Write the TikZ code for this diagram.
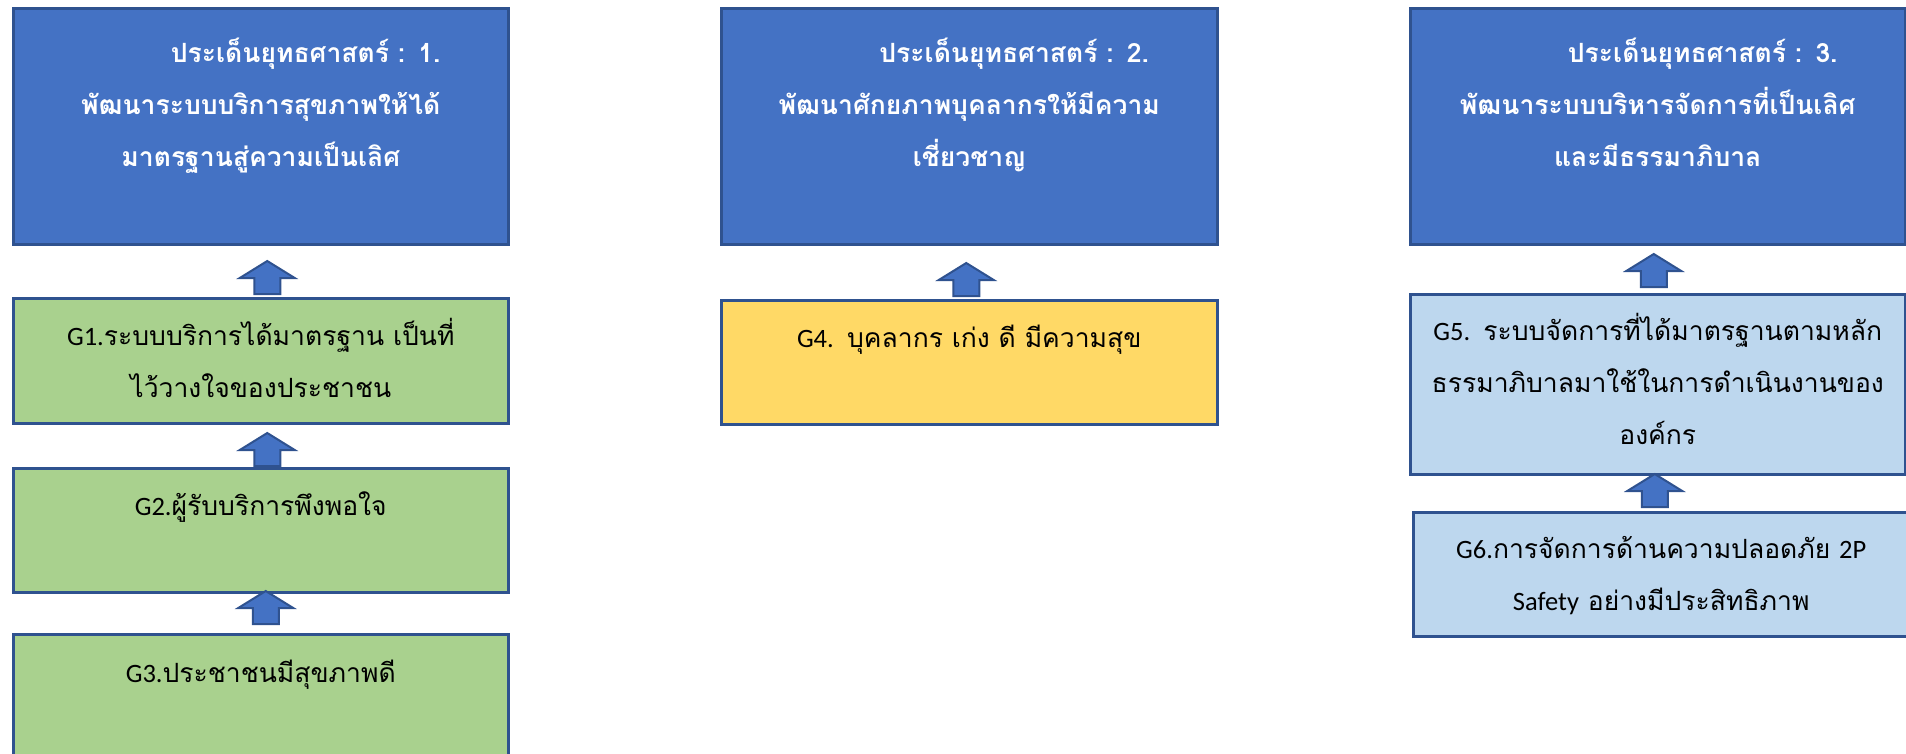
\documentclass[tikz,border=0pt]{standalone}
\usepackage{fontspec}
\setmainfont[Script=Thai]{Loma}
\newfontfamily\latn{Carlito}
\usetikzlibrary{calc}
\definecolor{hdrblue}{HTML}{4472C4}
\definecolor{edgeblue}{HTML}{2F528F}
\definecolor{goalgreen}{HTML}{A9D18E}
\definecolor{goalyellow}{HTML}{FFD966}
\definecolor{goallight}{HTML}{BDD7EE}
\newcommand\ltn[1]{{\latn #1}}
\begin{document}
\begin{tikzpicture}[x=1pt,y=-1pt,
  box/.style={draw=edgeblue, line width=2.5pt, rectangle, anchor=north west, inner sep=0pt},
  hdr/.style={box, fill=hdrblue, minimum width=495pt, minimum height=236pt},
  txt/.style={anchor=base, inner sep=0pt, align=center, text width=600pt, font=\fontsize{26.5}{52}\selectfont},
  hdrtxt/.style={txt, text=white, font=\fontsize{26.5}{52}\selectfont\bfseries},
  blk/.style={fill=hdrblue, draw=edgeblue, line width=2pt, line join=miter},
  blockup/.pic={\draw[blk] (-13,0) -- (-13,-16) -- (-27.5,-16) -- (0,-33) -- (27.5,-16) -- (13,-16) -- (13,0) -- cycle;}
]
\useasboundingbox (0,0) rectangle (1906,753);
\clip (0,0) rectangle (1906,753);
% column 1
\node[hdr] (b1) at (12,7) {};
\node[box, fill=goalgreen, minimum width=495pt, minimum height=125pt] (g1) at (12,297) {};
\node[box, fill=goalgreen, minimum width=495pt, minimum height=124pt] (g2) at (12,467) {};
\node[box, fill=goalgreen, minimum width=495pt, minimum height=130pt] (g3) at (12,633) {};
% column 2
\node[hdr, minimum width=496pt] (b2) at (720,7) {};
\node[box, fill=goalyellow, minimum width=496pt, minimum height=124pt] (g4) at (720,299) {};
% column 3
\node[hdr] (b3) at (1409,7) {};
\node[box, fill=goallight, minimum width=495pt, minimum height=180pt] (g5) at (1409,293) {};
\node[box, fill=goallight, minimum width=500pt, minimum height=124pt] (g6) at (1412,511) {};
% block arrows
\pic at ($(g1.north)+(6.5,-3)$) {blockup};
\pic at ($(g2.north)+(6.5,-1)$) {blockup};
\pic at ($(g3.north)+(5,-9)$) {blockup};
\pic at ($(g4.north)+(-3,-3)$) {blockup};
\pic at ($(g5.north)+(-4,-6)$) {blockup};
\pic at ($(g6.north)+(-8.5,-4)$) {blockup};
% texts
\node[hdrtxt] (b1t) at ($(b1.north)+(0,55)$) {\hspace*{90pt}ประเด็นยุทธศาสตร์ : 1.\\พัฒนาระบบบริการสุขภาพให้ได้\\มาตรฐานสู่ความเป็นเลิศ};
\node[hdrtxt] (b2t) at ($(b2.north)+(0,55)$) {\hspace*{90pt}ประเด็นยุทธศาสตร์ : 2.\\พัฒนาศักยภาพบุคลากรให้มีความ\\เชี่ยวชาญ};
\node[hdrtxt] (b3t) at ($(b3.north)+(0,55)$) {\hspace*{90pt}ประเด็นยุทธศาสตร์ : 3.\\พัฒนาระบบบริหารจัดการที่เป็นเลิศ\\และมีธรรมาภิบาล};
\node[txt] (g1t) at ($(g1.north)+(0,48)$) {\ltn{G1.}ระบบบริการได้มาตรฐาน เป็นที่\\ไว้วางใจของประชาชน};
\node[txt] (g2t) at ($(g2.north)+(0,48)$) {\ltn{G2.}ผู้รับบริการพึงพอใจ};
\node[txt] (g3t) at ($(g3.north)+(0,49)$) {\ltn{G3.}ประชาชนมีสุขภาพดี};
\node[txt] (g4t) at ($(g4.north)+(0,48)$) {\ltn{G4. }บุคลากร เก่ง ดี มีความสุข};
\node[txt] (g5t) at ($(g5.north)+(0,47)$) {\ltn{G5. }ระบบจัดการที่ได้มาตรฐานตามหลัก\\ธรรมาภิบาลมาใช้ในการดำเนินงานของ\\องค์กร};
\node[txt] (g6t) at ($(g6.north)+(-2,47)$) {\ltn{G6.}การจัดการด้านความปลอดภัย \ltn{2P}\\\ltn{Safety }อย่างมีประสิทธิภาพ};
\end{tikzpicture}
\end{document}
